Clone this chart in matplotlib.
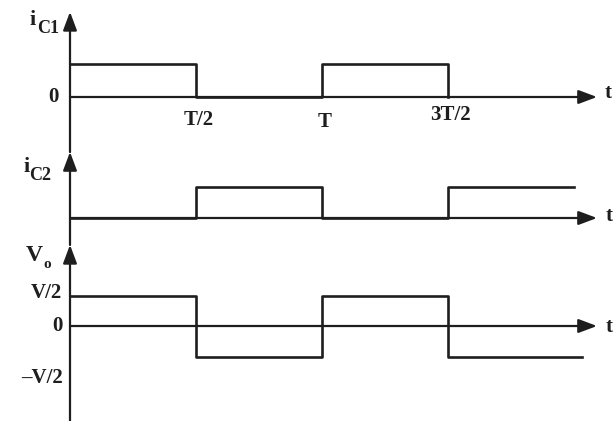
import matplotlib
matplotlib.use("Agg")
import matplotlib.pyplot as plt

# time in units of T, levels in panel units
ic1_t = [0, 0.5, 0.5, 1.0, 1.0, 1.5, 1.5]
ic1_y = [1, 1, 0, 0, 1, 1, 0]
ic2_t = [0, 0.5, 0.5, 1.0, 1.0, 1.5, 1.5, 2.0]
ic2_y = [0, 0, 1, 1, 0, 0, 1, 1]
vo_t = [0, 0.5, 0.5, 1.0, 1.0, 1.5, 1.5, 2.03]
vo_y = [0.5, 0.5, -0.5, -0.5, 0.5, 0.5, -0.5, -0.5]
t_ticks = [0.5, 1.0, 1.5]
t_labels = ["T/2", "T", "3T/2"]
v_ticks = [0.5, 0, -0.5]
v_labels = ["V/2", "0", "\u2013V/2"]

W, H = 615, 421
X0, XS = 70, 252          # pixel of t=0, pixels per T
INK = "#1e1e1e"
FONT = "Liberation Serif"

fig = plt.figure(figsize=(W / 100, H / 100), dpi=100)
fig.patch.set_facecolor("white")


def panel(y0, unit):
    ax = fig.add_axes([0, 0, 1, 1])
    ax.patch.set_alpha(0)
    ax.axis("off")
    ax.set_xlim(-X0 / XS, (W - X0) / XS)
    ax.set_ylim((y0 - H) / unit, y0 / unit)
    return ax


def arrow(ax, start, tip):
    ax.annotate("", xy=tip, xytext=start,
                arrowprops=dict(arrowstyle="-|>,head_length=0.8,head_width=0.3",
                                color=INK, lw=1.6, mutation_scale=14,
                                shrinkA=0, shrinkB=0))


def ftext(x, y, s, size=15, **kw):
    fig.text(x / W, 1 - y / H, s, fontsize=size, fontfamily=FONT,
             fontweight="bold", color=INK, **kw)


t_end = (597 - X0) / XS

# top panel: i_C1
ax1 = panel(97, 33)
arrow(ax1, (0, -1.67), (0, 2.58))
arrow(ax1, (0, 0), (t_end, 0))
ax1.plot(ic1_t, ic1_y, color=INK, lw=1.9)
for tt, lab, dy in zip(t_ticks, t_labels, [-0.7, -0.76, -0.55]):
    ax1.text(tt + 0.01, dy, lab, ha="center", va="center", fontsize=15,
             fontfamily=FONT, fontweight="bold", color=INK)
ax1.text(-0.045, 0, "0", ha="right", va="center", fontsize=15,
         fontfamily=FONT, fontweight="bold", color=INK)

# middle panel: i_C2
ax2 = panel(218, 31)
arrow(ax2, (0, -0.87), (0, 2.13))
arrow(ax2, (0, 0), (t_end, 0))
ax2.plot(ic2_t, ic2_y, color=INK, lw=1.9)

# bottom panel: Vo
ax3 = panel(326, 61)
arrow(ax3, (0, -1.6), (0, 1.33))
arrow(ax3, (0, 0), (t_end, 0))
ax3.plot(vo_t, vo_y, color=INK, lw=1.9)
for yy, lab, dy in zip(v_ticks, v_labels, [0.54, 0, -0.85]):
    ax3.text(-0.03, dy, lab, ha="right", va="center", fontsize=15,
             fontfamily=FONT, fontweight="bold", color=INK)

# axis names
ftext(30, 25, "i", size=16)
ftext(37, 33, "C1", size=13)
ftext(23, 172, "i", size=16)
ftext(29, 180, "C2", size=13)
ftext(26, 261, "V", size=17)
ftext(43, 268, "o", size=11)
for x, y in ((605, 93), (606, 216), (606, 327)):
    ftext(x, y, "t", size=15, va="center")

fig.savefig("out.png", dpi=100, facecolor="white")
